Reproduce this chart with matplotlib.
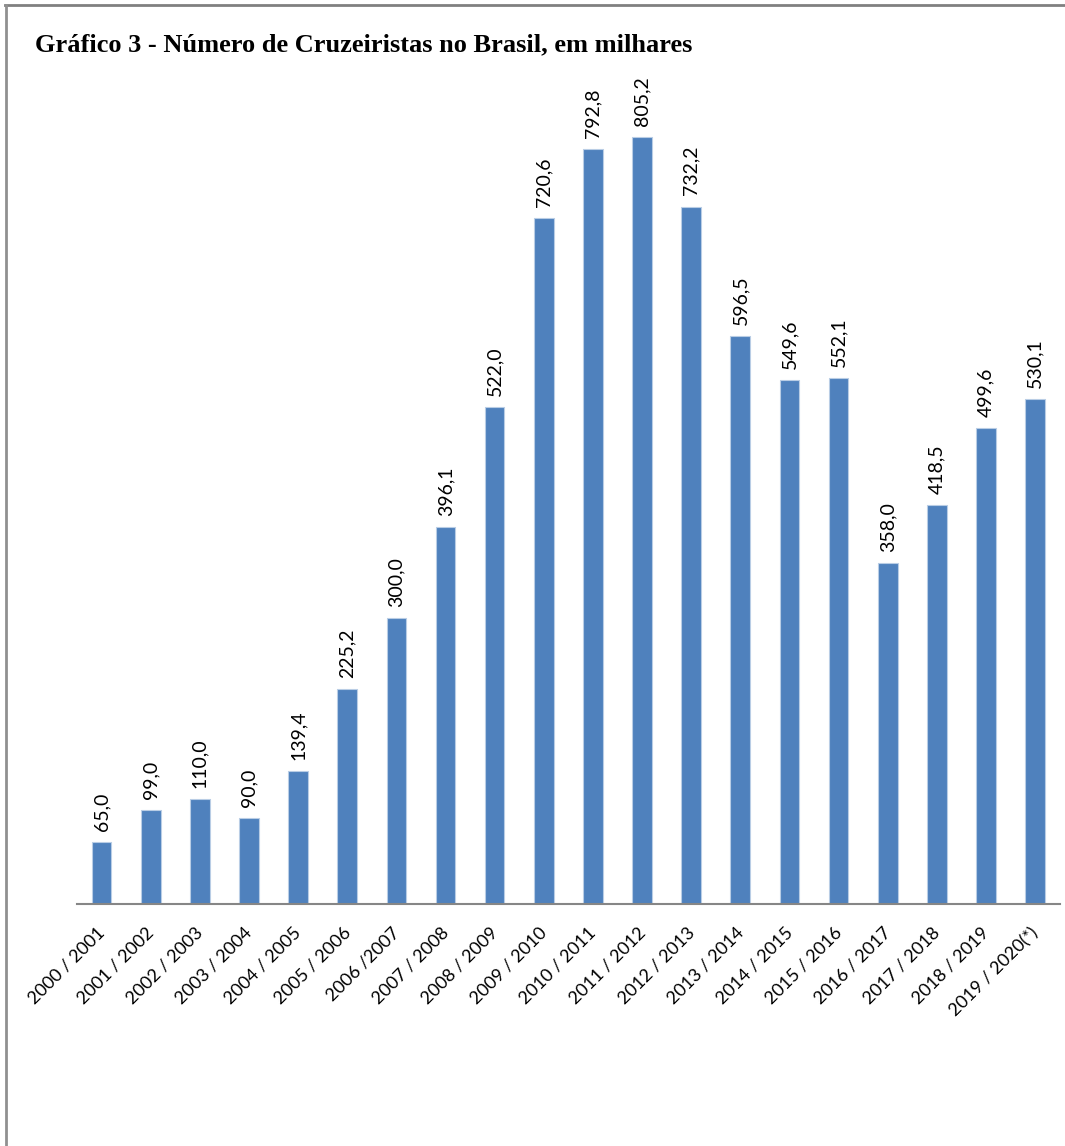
import matplotlib.pyplot as plt
import matplotlib.transforms as mtransforms
from matplotlib.lines import Line2D

#  Safras (seasons) and number of cruise passengers, in thousands
seasons = ['2000 / 2001', '2001 / 2002', '2002 / 2003', '2003 / 2004',
           '2004 / 2005', '2005 / 2006', '2006 /2007', '2007 / 2008',
           '2008 / 2009', '2009 / 2010', '2010 / 2011', '2011 / 2012',
           '2012 / 2013', '2013 / 2014', '2014 / 2015', '2015 / 2016',
           '2016 / 2017', '2017 / 2018', '2018 / 2019', '2019 / 2020(*)']
passengers = [65.0, 99.0, 110.0, 90.0, 139.4, 225.2, 300.0, 396.1, 522.0,
              720.6, 792.8, 805.2, 732.2, 596.5, 549.6, 552.1, 358.0,
              418.5, 499.6, 530.1]

label_font = ['Lato', 'DejaVu Sans']

fig = plt.figure(figsize=(10.65, 11.46), dpi=100)
ax = fig.add_axes([0.0723, 0.2112, 0.9227, 0.748])

x = range(len(seasons))
ax.bar(x, passengers, width=0.4, color='#4F81BD', edgecolor='#B9CDE5',
       linewidth=0.8)

for xi, v in zip(x, passengers):
    ax.annotate(f'{v:.1f}'.replace('.', ','), (xi, v), xytext=(0, 8),
                textcoords='offset points', rotation=90, ha='center',
                va='bottom', fontsize=14, family=label_font)

ax.set_xlim(-0.5, len(seasons) - 0.5)
ax.set_ylim(0, 900)
ax.set_yticks([])
ax.set_xticks(list(x))
ax.set_xticklabels(seasons, rotation=45, ha='right', rotation_mode='anchor',
                   fontsize=13, family=label_font)
ax.tick_params(axis='x', length=0, pad=15)
offset = mtransforms.ScaledTranslation(-0.05, 0, fig.dpi_scale_trans)
for lab in ax.get_xticklabels():
    lab.set_transform(lab.get_transform() + offset)

for s in ['top', 'right', 'left']:
    ax.spines[s].set_visible(False)
ax.spines['bottom'].set_color('#868686')
ax.spines['bottom'].set_linewidth(1.5)

#  Outer frame (top and left edges only are visible in the source)
fig.add_artist(Line2D([0.005, 1.0], [0.9957, 0.9957], color='#808080',
                      linewidth=2, transform=fig.transFigure))
fig.add_artist(Line2D([0.0052, 0.0052], [0.0, 0.9957], color='#909090',
                      linewidth=2, transform=fig.transFigure))

fig.text(0.033, 0.961, 'Gráfico 3 - Número de Cruzeiristas no Brasil, em milhares',
         family=['Liberation Serif', 'DejaVu Serif'], fontweight='bold',
         fontsize=19, va='center', ha='left')

plt.savefig('out.png', dpi=100)
